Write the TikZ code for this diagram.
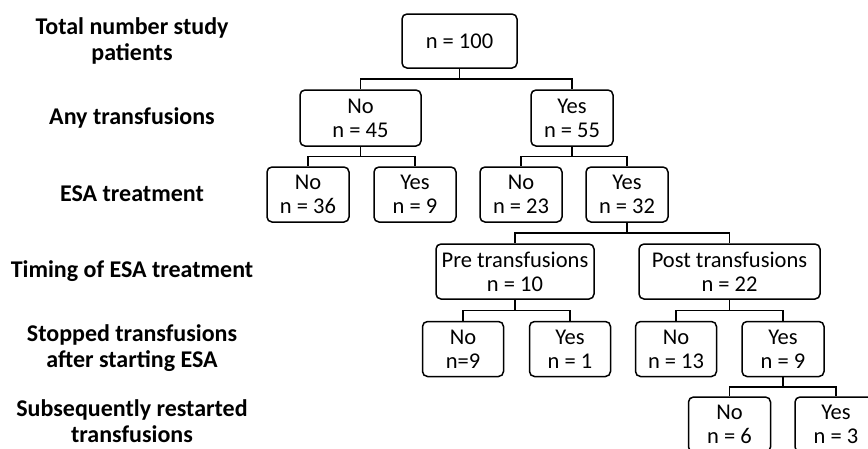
\documentclass[tikz,border=0pt]{standalone}
\usepackage{fontspec}
\setmainfont{Carlito}
\usepackage{tikz}
\usetikzlibrary{calc}

\tikzset{
  box/.style={draw, rounded corners=5pt, line width=1.5pt, align=center,
    minimum height=55pt, inner sep=0pt, font=\fontsize{22.5}{24}\selectfont},
  lvl/.style={align=center, font=\fontsize{24}{25.5}\selectfont\bfseries},
  branch/.style={line width=1.5pt,
    to path={(\tikztostart) |- ($(\tikztostart)!0.5!(\tikztotarget)$) -| (\tikztotarget)}}
}

\begin{document}
\begin{tikzpicture}[x=1pt, y=-1pt]
%Flow of patients
\useasboundingbox (0,0) rectangle (868,448);
\clip (0,0) rectangle (868,448);
  % level labels
  \node[lvl] (l0) at (132,41) {Total number study\\patients};
  \node[lvl] (l1) at (132,118) {Any transfusions};
  \node[lvl] (l2) at (132,194) {ESA treatment};
  \node[lvl] (l3) at (132,271) {Timing of ESA treatment};
  \node[lvl] (l4) at (132,348) {Stopped transfusions\\after starting ESA};
  \node[lvl] (l5) at (132,421) {Subsequently restarted\\transfusions};
  % tree
  \node[box, minimum width=115pt, minimum height=54pt] (root) at (459.5,41) {n = 100};
  \node[box, minimum width=121pt, minimum height=56pt] (no) at (360.5,118) {No\\n = 45};
  \node[box, minimum width=82pt, minimum height=56pt] (yes) at (572,118) {Yes\\n = 55};
  \node[box, minimum width=82pt] (nono) at (308,194.5) {No\\n = 36};
  \node[box, minimum width=82pt] (noyes) at (415,194.5) {Yes\\n = 9};
  \node[box, minimum width=82pt] (yesno) at (521,194.5) {No\\n = 23};
  \node[box, minimum width=82pt] (yesyes) at (627,194.5) {Yes\\n = 32};
  \node[box, minimum width=158pt] (pre) at (515,271.5) {Pre transfusions\\n = 10};
  \node[box, minimum width=181pt] (post) at (729.5,271.5) {Post transfusions\\n = 22};
  \node[box, minimum width=81pt] (preno) at (463,349) {No\\n=9};
  \node[box, minimum width=81pt] (preyes) at (570,349) {Yes\\n = 1};
  \node[box, minimum width=81pt] (postno) at (676,349) {No\\n = 13};
  \node[box, minimum width=82pt] (postyes) at (783,349) {Yes\\n = 9};
  \node[box, minimum width=82pt] (restno) at (729.5,424.5) {No\\n = 6};
  \node[box, minimum width=82pt] (restyes) at (836,424.5) {Yes\\n = 3};
  % connectors
  \draw[branch] (root.south) to (no.north);
  \draw[branch] (root.south) to (yes.north);
  \draw[branch] (no.south) to (nono.north);
  \draw[branch] (no.south) to (noyes.north);
  \draw[branch] (yes.south) to (yesno.north);
  \draw[branch] (yes.south) to (yesyes.north);
  \draw[branch] (yesyes.south) to (pre.north);
  \draw[branch] (yesyes.south) to (post.north);
  \draw[branch] (pre.south) to (preno.north);
  \draw[branch] (pre.south) to (preyes.north);
  \draw[branch] (post.south) to (postno.north);
  \draw[branch] (post.south) to (postyes.north);
  \draw[branch] (postyes.south) to (restno.north);
  \draw[branch] (postyes.south) to (restyes.north);
\end{tikzpicture}
\end{document}
